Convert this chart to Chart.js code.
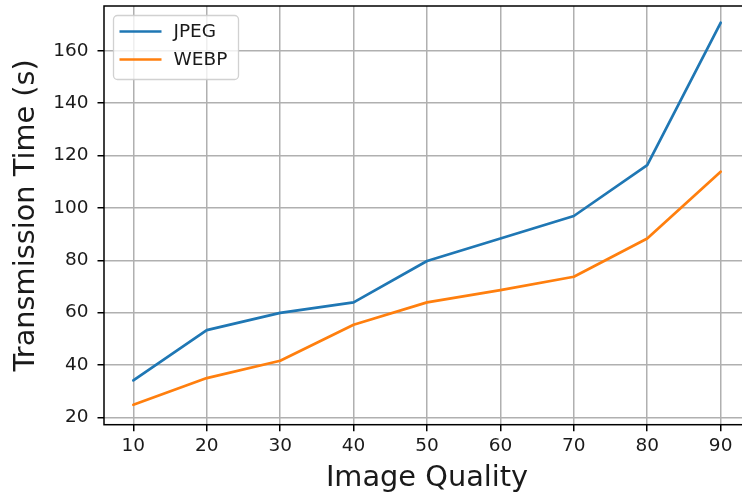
<!DOCTYPE html>
<html>
<head>
<meta charset="utf-8">
<script src="https://cdn.jsdelivr.net/npm/chart.js@4/dist/chart.umd.min.js"></script>
<style>
  html, body { margin: 0; padding: 0; background: #fff; overflow: hidden; }
  #wrap { width: 742px; height: 498px; overflow: hidden; }
  canvas { display: block; }
</style>
</head>
<body>
<div id="wrap"><canvas id="c" width="752" height="498"></canvas></div>
<script>
// Transmission time per image quality setting
const quality = [10, 20, 30, 40, 50, 60, 70, 80, 90];
const jpegTime = [34.1, 53.3, 59.9, 63.9, 79.7, 88.3, 96.9, 116.3, 170.7];
const webpTime = [24.8, 35.0, 41.6, 55.4, 63.9, 68.6, 73.7, 88.3, 113.8];
const seriesNames = ['JPEG', 'WEBP'];
const xTicks = [10, 20, 30, 40, 50, 60, 70, 80, 90];
const yTicks = [20, 40, 60, 80, 100, 120, 140, 160];

const FONT = 'DejaVu Sans';
const TEXT = '#1a1a1a';

const toPoints = (xs, ys) => xs.map((x, i) => ({ x, y: ys[i] }));

// Frame around the plot area plus an in-plot legend box
const framePlugin = {
  id: 'frame',
  afterDatasetsDraw(chart) {
    const { ctx, chartArea: a } = chart;
    ctx.save();
    ctx.strokeStyle = '#000';
    ctx.lineWidth = 1.5;
    ctx.strokeRect(a.left, a.top, a.right - a.left, a.bottom - a.top);
    ctx.restore();
  },
  afterDraw(chart) {
    const { ctx, chartArea: a } = chart;
    const bx = a.left + 9.5, by = a.top + 9.5, bw = 125, bh = 64, r = 4;
    ctx.save();
    ctx.beginPath();
    ctx.roundRect(bx, by, bw, bh, r);
    ctx.fillStyle = 'rgba(255,255,255,0.8)';
    ctx.fill();
    ctx.strokeStyle = 'rgba(204,204,204,0.9)';
    ctx.lineWidth = 1.3;
    ctx.stroke();
    ctx.font = '18.5px "' + FONT + '"';
    ctx.textBaseline = 'middle';
    chart.data.datasets.forEach((ds, i) => {
      const y = by + 16 + i * 28;
      ctx.beginPath();
      ctx.moveTo(bx + 6, y);
      ctx.lineTo(bx + 48, y);
      ctx.strokeStyle = ds.borderColor;
      ctx.lineWidth = 2.7;
      ctx.stroke();
      ctx.fillStyle = TEXT;
      ctx.fillText(ds.label, bx + 60, y + 1);
    });
    ctx.restore();
  }
};

new Chart(document.getElementById('c'), {
  type: 'line',
  data: {
    datasets: [
      { label: seriesNames[0], data: toPoints(quality, jpegTime), borderColor: '#1f77b4', backgroundColor: '#1f77b4' },
      { label: seriesNames[1], data: toPoints(quality, webpTime), borderColor: '#ff7f0e', backgroundColor: '#ff7f0e' }
    ]
  },
  options: {
    responsive: false,
    animation: false,
    devicePixelRatio: 1,
    layout: { padding: { top: 6, right: 2, left: 0, bottom: 0 } },
    elements: {
      line: { borderWidth: 2.7, tension: 0, borderCapStyle: 'round', borderJoinStyle: 'round' },
      point: { radius: 0, hoverRadius: 0 }
    },
    plugins: { legend: { display: false }, tooltip: { enabled: false } },
    scales: {
      x: {
        type: 'linear',
        min: 6, max: 94,
        afterBuildTicks: s => { s.ticks = xTicks.map(v => ({ value: v })); },
        afterFit: s => { s.height = 73.3; s.paddingLeft = 0; s.paddingRight = 0; },
        grid: { color: '#b0b0b0', lineWidth: 1.5, tickColor: '#000', tickLength: 6.5, tickWidth: 1.5 },
        border: { display: false },
        ticks: { color: TEXT, font: { family: FONT, size: 18.5 }, padding: 4, maxRotation: 0, autoSkip: false },
        title: { display: true, text: 'Image Quality', color: TEXT, font: { family: FONT, size: 28.8 }, padding: { top: 0, bottom: 2 } }
      },
      y: {
        type: 'linear',
        min: 17.2, max: 177.1,
        afterBuildTicks: s => { s.ticks = yTicks.map(v => ({ value: v })); },
        afterFit: s => { s.width = 104; s.paddingTop = 0; s.paddingBottom = 0; },
        grid: { color: '#b0b0b0', lineWidth: 1.5, tickColor: '#000', tickLength: 6.5, tickWidth: 1.5 },
        border: { display: false },
        ticks: { color: TEXT, font: { family: FONT, size: 18.5 }, padding: 9, autoSkip: false },
        title: { display: true, text: 'Transmission Time (s)', color: TEXT, font: { family: FONT, size: 28.8 }, padding: { top: 9, bottom: 0 } }
      }
    }
  },
  plugins: [framePlugin]
});
</script>
</body>
</html>
